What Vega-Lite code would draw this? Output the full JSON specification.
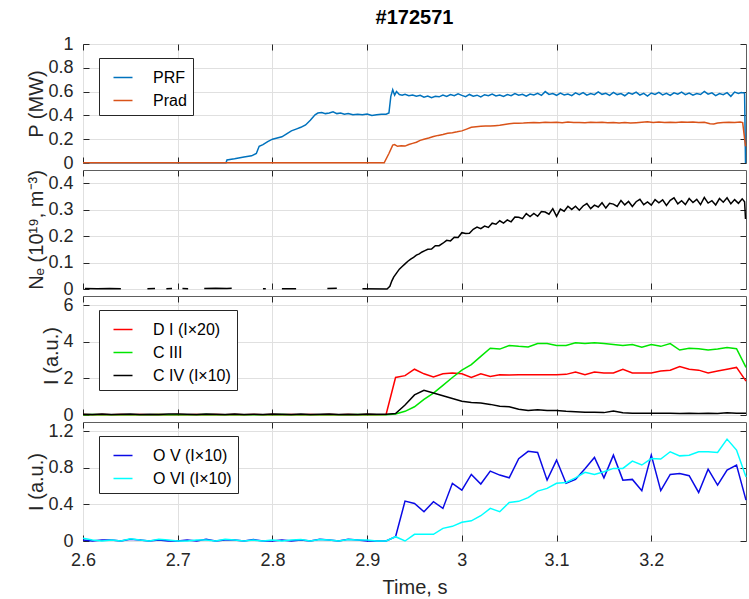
{
  "$schema": "https://vega.github.io/schema/vega-lite/v6.json",
  "padding": {"left": 26, "top": 7, "right": 2, "bottom": 5},
  "title": {"text": "#172571", "fontSize": 20, "fontWeight": "bold", "font": "Liberation Sans", "color": "#000000", "offset": 7, "anchor": "middle", "frame": "group"},
  "spacing": 7,
  "bounds": "flush",
  "config": {
    "font": "Liberation Sans",
    "view": {"stroke": "#5e5e5e", "strokeWidth": 1},
    "axis": {"domain": false, "grid": true, "gridColor": "#e0e0e0", "gridWidth": 1, "tickColor": "#262626", "tickSize": -6, "tickWidth": 1, "labelFont": "Liberation Sans", "labelFontSize": 18, "labelColor": "#262626", "titleFont": "Liberation Sans", "titleFontSize": 20, "titleFontWeight": "normal", "titleColor": "#262626", "labelPadding": 16, "labelFlush": false, "labelOverlap": false},
    "axisY": {"titlePadding": 1},
    "legend": {"orient": "none", "legendX": 16, "legendY": 14, "title": null, "symbolType": "M-0.4,0H1.12", "symbolSize": 625, "symbolStrokeWidth": 1.5, "labelFontSize": 16, "labelFont": "Liberation Sans", "labelColor": "#000000", "padding": 6, "strokeColor": "#262626", "fillColor": "#ffffff", "rowPadding": 1, "labelOffset": 21},
    "line": {"strokeWidth": 1.5, "clip": true}
  },
  "datasets": {
    "p1": [
      {"t":2.6,"v":0.003,"s":"RF"},{"t":2.7,"v":0.002,"s":"RF"},{"t":2.751,"v":0.003,"s":"RF"},{"t":2.752,"v":0.025,"s":"RF"},{"t":2.76,"v":0.035,"s":"RF"},{"t":2.77,"v":0.05,"s":"RF"},{"t":2.778,"v":0.06,"s":"RF"},{"t":2.783,"v":0.08,"s":"RF"},{"t":2.786,"v":0.14,"s":"RF"},{"t":2.79,"v":0.155,"s":"RF"},{"t":2.795,"v":0.18,"s":"RF"},{"t":2.8,"v":0.2,"s":"RF"},{"t":2.805,"v":0.21,"s":"RF"},{"t":2.81,"v":0.22,"s":"RF"},{"t":2.815,"v":0.245,"s":"RF"},{"t":2.82,"v":0.27,"s":"RF"},{"t":2.825,"v":0.285,"s":"RF"},{"t":2.83,"v":0.3,"s":"RF"},{"t":2.835,"v":0.32,"s":"RF"},{"t":2.84,"v":0.36,"s":"RF"},{"t":2.845,"v":0.405,"s":"RF"},{"t":2.848,"v":0.42,"s":"RF"},{"t":2.852,"v":0.425,"s":"RF"},{"t":2.856,"v":0.415,"s":"RF"},{"t":2.86,"v":0.42,"s":"RF"},{"t":2.864,"v":0.43,"s":"RF"},{"t":2.868,"v":0.415,"s":"RF"},{"t":2.872,"v":0.42,"s":"RF"},{"t":2.876,"v":0.41,"s":"RF"},{"t":2.88,"v":0.415,"s":"RF"},{"t":2.885,"v":0.405,"s":"RF"},{"t":2.89,"v":0.41,"s":"RF"},{"t":2.895,"v":0.405,"s":"RF"},{"t":2.9,"v":0.412,"s":"RF"},{"t":2.905,"v":0.4,"s":"RF"},{"t":2.91,"v":0.405,"s":"RF"},{"t":2.915,"v":0.41,"s":"RF"},{"t":2.92,"v":0.41,"s":"RF"},{"t":2.923,"v":0.42,"s":"RF"},{"t":2.925,"v":0.56,"s":"RF"},{"t":2.927,"v":0.615,"s":"RF"},{"t":2.929,"v":0.57,"s":"RF"},{"t":2.931,"v":0.6,"s":"RF"},{"t":2.934,"v":0.575,"s":"RF"},{"t":2.937,"v":0.57,"s":"RF"},
      {"t":2.94,"v":0.578,"s":"RF"},{"t":2.944,"v":0.566,"s":"RF"},{"t":2.948,"v":0.572,"s":"RF"},{"t":2.952,"v":0.561,"s":"RF"},{"t":2.956,"v":0.569,"s":"RF"},{"t":2.96,"v":0.553,"s":"RF"},{"t":2.964,"v":0.562,"s":"RF"},{"t":2.968,"v":0.548,"s":"RF"},{"t":2.972,"v":0.56,"s":"RF"},{"t":2.976,"v":0.556,"s":"RF"},{"t":2.98,"v":0.571,"s":"RF"},{"t":2.984,"v":0.56,"s":"RF"},{"t":2.988,"v":0.575,"s":"RF"},{"t":2.992,"v":0.565,"s":"RF"},{"t":2.996,"v":0.582,"s":"RF"},{"t":3.0,"v":0.568,"s":"RF"},{"t":3.004,"v":0.558,"s":"RF"},{"t":3.008,"v":0.576,"s":"RF"},{"t":3.012,"v":0.562,"s":"RF"},{"t":3.016,"v":0.57,"s":"RF"},{"t":3.02,"v":0.555,"s":"RF"},{"t":3.024,"v":0.574,"s":"RF"},{"t":3.028,"v":0.566,"s":"RF"},{"t":3.032,"v":0.579,"s":"RF"},{"t":3.036,"v":0.563,"s":"RF"},{"t":3.04,"v":0.572,"s":"RF"},{"t":3.044,"v":0.56,"s":"RF"},{"t":3.048,"v":0.575,"s":"RF"},{"t":3.052,"v":0.566,"s":"RF"},{"t":3.056,"v":0.584,"s":"RF"},{"t":3.06,"v":0.57,"s":"RF"},{"t":3.064,"v":0.578,"s":"RF"},{"t":3.068,"v":0.562,"s":"RF"},{"t":3.072,"v":0.58,"s":"RF"},{"t":3.076,"v":0.571,"s":"RF"},{"t":3.08,"v":0.585,"s":"RF"},{"t":3.084,"v":0.568,"s":"RF"},{"t":3.088,"v":0.6,"s":"RF"},{"t":3.092,"v":0.576,"s":"RF"},{"t":3.096,"v":0.583,"s":"RF"},{"t":3.1,"v":0.569,"s":"RF"},{"t":3.104,"v":0.587,"s":"RF"},{"t":3.108,"v":0.572,"s":"RF"},{"t":3.112,"v":0.58,"s":"RF"},{"t":3.116,"v":0.566,"s":"RF"},{"t":3.12,"v":0.589,"s":"RF"},{"t":3.124,"v":0.575,"s":"RF"},{"t":3.128,"v":0.592,"s":"RF"},{"t":3.132,"v":0.57,"s":"RF"},{"t":3.136,"v":0.583,"s":"RF"},{"t":3.14,"v":0.574,"s":"RF"},{"t":3.144,"v":0.598,"s":"RF"},{"t":3.148,"v":0.577,"s":"RF"},{"t":3.152,"v":0.586,"s":"RF"},{"t":3.156,"v":0.569,"s":"RF"},{"t":3.16,"v":0.594,"s":"RF"},{"t":3.164,"v":0.575,"s":"RF"},{"t":3.168,"v":0.584,"s":"RF"},{"t":3.172,"v":0.565,"s":"RF"},{"t":3.176,"v":0.59,"s":"RF"},{"t":3.18,"v":0.578,"s":"RF"},{"t":3.184,"v":0.596,"s":"RF"},{"t":3.188,"v":0.571,"s":"RF"},{"t":3.192,"v":0.585,"s":"RF"},{"t":3.196,"v":0.563,"s":"RF"},{"t":3.2,"v":0.588,"s":"RF"},{"t":3.204,"v":0.576,"s":"RF"},{"t":3.208,"v":0.593,"s":"RF"},{"t":3.212,"v":0.572,"s":"RF"},{"t":3.216,"v":0.585,"s":"RF"},{"t":3.22,"v":0.568,"s":"RF"},{"t":3.224,"v":0.59,"s":"RF"},{"t":3.228,"v":0.579,"s":"RF"},{"t":3.232,"v":0.595,"s":"RF"},{"t":3.236,"v":0.574,"s":"RF"},{"t":3.24,"v":0.588,"s":"RF"},{"t":3.244,"v":0.57,"s":"RF"},{"t":3.248,"v":0.583,"s":"RF"},{"t":3.252,"v":0.576,"s":"RF"},{"t":3.256,"v":0.602,"s":"RF"},{"t":3.26,"v":0.578,"s":"RF"},{"t":3.264,"v":0.589,"s":"RF"},{"t":3.268,"v":0.566,"s":"RF"},{"t":3.272,"v":0.584,"s":"RF"},{"t":3.276,"v":0.574,"s":"RF"},{"t":3.28,"v":0.591,"s":"RF"},{"t":3.284,"v":0.56,"s":"RF"},{"t":3.288,"v":0.596,"s":"RF"},{"t":3.292,"v":0.585,"s":"RF"},{"t":3.295,"v":0.592,"s":"RF"},{"t":3.2985,"v":0.588,"s":"RF"},{"t":3.2995,"v":0.0,"s":"RF"},
      {"t":2.6,"v":0.002,"s":"rad"},{"t":2.918,"v":0.002,"s":"rad"},{"t":2.923,"v":0.08,"s":"rad"},{"t":2.927,"v":0.15,"s":"rad"},{"t":2.929,"v":0.155,"s":"rad"},{"t":2.932,"v":0.14,"s":"rad"},{"t":2.936,"v":0.145,"s":"rad"},{"t":2.94,"v":0.142,"s":"rad"},{"t":2.944,"v":0.155,"s":"rad"},{"t":2.948,"v":0.165,"s":"rad"},{"t":2.952,"v":0.175,"s":"rad"},{"t":2.956,"v":0.19,"s":"rad"},{"t":2.96,"v":0.2,"s":"rad"},{"t":2.965,"v":0.21,"s":"rad"},{"t":2.97,"v":0.222,"s":"rad"},{"t":2.975,"v":0.232,"s":"rad"},{"t":2.98,"v":0.24,"s":"rad"},{"t":2.985,"v":0.25,"s":"rad"},{"t":2.99,"v":0.255,"s":"rad"},{"t":2.995,"v":0.262,"s":"rad"},{"t":3.0,"v":0.27,"s":"rad"},{"t":3.005,"v":0.285,"s":"rad"},{"t":3.01,"v":0.3,"s":"rad"},{"t":3.015,"v":0.305,"s":"rad"},{"t":3.02,"v":0.308,"s":"rad"},{"t":3.025,"v":0.31,"s":"rad"},{"t":3.03,"v":0.31,"s":"rad"},{"t":3.035,"v":0.314,"s":"rad"},{"t":3.04,"v":0.318,"s":"rad"},{"t":3.045,"v":0.324,"s":"rad"},{"t":3.05,"v":0.33,"s":"rad"},{"t":3.055,"v":0.333,"s":"rad"},{"t":3.06,"v":0.335,"s":"rad"},{"t":3.065,"v":0.336,"s":"rad"},{"t":3.07,"v":0.338,"s":"rad"},{"t":3.076,"v":0.341,"s":"rad"},{"t":3.082,"v":0.338,"s":"rad"},{"t":3.088,"v":0.343,"s":"rad"},{"t":3.094,"v":0.34,"s":"rad"},{"t":3.1,"v":0.342,"s":"rad"},{"t":3.106,"v":0.339,"s":"rad"},{"t":3.112,"v":0.344,"s":"rad"},{"t":3.118,"v":0.34,"s":"rad"},{"t":3.124,"v":0.341,"s":"rad"},{"t":3.13,"v":0.338,"s":"rad"},{"t":3.136,"v":0.342,"s":"rad"},{"t":3.142,"v":0.34,"s":"rad"},{"t":3.148,"v":0.343,"s":"rad"},{"t":3.154,"v":0.339,"s":"rad"},{"t":3.16,"v":0.341,"s":"rad"},{"t":3.166,"v":0.337,"s":"rad"},{"t":3.172,"v":0.34,"s":"rad"},{"t":3.178,"v":0.336,"s":"rad"},{"t":3.184,"v":0.339,"s":"rad"},{"t":3.19,"v":0.342,"s":"rad"},{"t":3.196,"v":0.346,"s":"rad"},{"t":3.202,"v":0.341,"s":"rad"},{"t":3.208,"v":0.344,"s":"rad"},{"t":3.214,"v":0.34,"s":"rad"},{"t":3.22,"v":0.343,"s":"rad"},{"t":3.226,"v":0.341,"s":"rad"},{"t":3.232,"v":0.345,"s":"rad"},{"t":3.238,"v":0.342,"s":"rad"},{"t":3.244,"v":0.344,"s":"rad"},{"t":3.25,"v":0.34,"s":"rad"},{"t":3.256,"v":0.342,"s":"rad"},{"t":3.262,"v":0.33,"s":"rad"},{"t":3.266,"v":0.328,"s":"rad"},{"t":3.27,"v":0.336,"s":"rad"},{"t":3.276,"v":0.34,"s":"rad"},{"t":3.282,"v":0.343,"s":"rad"},{"t":3.288,"v":0.341,"s":"rad"},{"t":3.294,"v":0.344,"s":"rad"},{"t":3.2965,"v":0.34,"s":"rad"},{"t":3.2995,"v":0.14,"s":"rad"}
    ],
    "p2": [
      {"t":2.602,"v":0.002},{"t":2.615,"v":0.001},{"t":2.628,"v":0.002},{"t":2.64,"v":0.001},{"t":2.641,"v":null},
      {"t":2.668,"v":0.001},{"t":2.676,"v":0.002},{"t":2.677,"v":null},
      {"t":2.688,"v":0.001},{"t":2.694,"v":0.002},{"t":2.695,"v":null},
      {"t":2.705,"v":0.002},{"t":2.711,"v":0.001},{"t":2.712,"v":null},
      {"t":2.728,"v":0.002},{"t":2.74,"v":0.003},{"t":2.752,"v":0.002},{"t":2.757,"v":0.003},{"t":2.758,"v":null},
      {"t":2.79,"v":0.001},{"t":2.793,"v":0.001},{"t":2.794,"v":null},
      {"t":2.81,"v":0.001},{"t":2.825,"v":0.001},{"t":2.826,"v":null},
      {"t":2.858,"v":0.002},{"t":2.868,"v":0.003},{"t":2.869,"v":null},
      {"t":2.895,"v":0.001},{"t":2.921,"v":0.0},{"t":2.924,"v":0.01},{"t":2.926,"v":0.03},{"t":2.928,"v":0.045},{"t":2.931,"v":0.06},{"t":2.934,"v":0.075},{"t":2.937,"v":0.085},{"t":2.94,"v":0.095},{"t":2.943,"v":0.105},{"t":2.946,"v":0.113},{"t":2.949,"v":0.12},{"t":2.952,"v":0.128},{"t":2.955,"v":0.133},{"t":2.958,"v":0.14},{"t":2.961,"v":0.145},
      {"t":2.964,"v":0.15},{"t":2.968,"v":0.151},{"t":2.972,"v":0.164},{"t":2.976,"v":0.164},{"t":2.98,"v":0.173},{"t":2.984,"v":0.184},{"t":2.988,"v":0.182},{"t":2.992,"v":0.196},{"t":2.996,"v":0.195},{"t":3.0,"v":0.213},{"t":3.004,"v":0.21},{"t":3.008,"v":0.211},{"t":3.012,"v":0.226},{"t":3.016,"v":0.234},{"t":3.02,"v":0.228},{"t":3.024,"v":0.238},{"t":3.028,"v":0.233},{"t":3.032,"v":0.249},{"t":3.036,"v":0.245},{"t":3.04,"v":0.258},{"t":3.044,"v":0.249},{"t":3.048,"v":0.261},{"t":3.052,"v":0.254},{"t":3.056,"v":0.272},{"t":3.06,"v":0.271},{"t":3.064,"v":0.266},{"t":3.068,"v":0.285},{"t":3.072,"v":0.274},{"t":3.076,"v":0.286},{"t":3.08,"v":0.275},{"t":3.084,"v":0.293},{"t":3.088,"v":0.291},{"t":3.092,"v":0.283},{"t":3.096,"v":0.304},{"t":3.1,"v":0.275},{"t":3.104,"v":0.302},{"t":3.108,"v":0.294},{"t":3.112,"v":0.313},{"t":3.116,"v":0.301},{"t":3.12,"v":0.313},{"t":3.124,"v":0.298},{"t":3.128,"v":0.314},{"t":3.132,"v":0.323},{"t":3.136,"v":0.304},{"t":3.14,"v":0.317},{"t":3.144,"v":0.31},{"t":3.148,"v":0.326},{"t":3.152,"v":0.306},{"t":3.156,"v":0.324},{"t":3.16,"v":0.321},{"t":3.164,"v":0.312},{"t":3.168,"v":0.335},{"t":3.172,"v":0.318},{"t":3.176,"v":0.331},{"t":3.18,"v":0.312},{"t":3.184,"v":0.33},{"t":3.188,"v":0.339},{"t":3.192,"v":0.319},{"t":3.196,"v":0.329},{"t":3.2,"v":0.317},{"t":3.204,"v":0.338},{"t":3.208,"v":0.326},{"t":3.212,"v":0.337},{"t":3.216,"v":0.316},{"t":3.22,"v":0.335},{"t":3.224,"v":0.345},{"t":3.228,"v":0.322},{"t":3.232,"v":0.334},{"t":3.236,"v":0.319},{"t":3.24,"v":0.342},{"t":3.244,"v":0.327},{"t":3.248,"v":0.339},{"t":3.252,"v":0.319},{"t":3.256,"v":0.346},{"t":3.26,"v":0.325},{"t":3.264,"v":0.334},{"t":3.268,"v":0.318},{"t":3.272,"v":0.342},{"t":3.276,"v":0.328},{"t":3.28,"v":0.345},{"t":3.284,"v":0.322},{"t":3.288,"v":0.338},{"t":3.292,"v":0.324},{"t":3.296,"v":0.341},{"t":3.2985,"v":0.33},{"t":3.2995,"v":0.265}
    ],
    "p3": [
      {"t":2.6,"DI":0.03,"CIII":0.02,"CIV":0.04},{"t":2.61,"DI":0.02,"CIII":0.03,"CIV":0.03},{"t":2.62,"DI":0.03,"CIII":0.02,"CIV":0.05},{"t":2.63,"DI":0.02,"CIII":0.01,"CIV":0.03},{"t":2.64,"DI":0.03,"CIII":0.02,"CIV":0.04},{"t":2.65,"DI":0.02,"CIII":0.02,"CIV":0.06},{"t":2.66,"DI":0.03,"CIII":0.01,"CIV":0.03},{"t":2.67,"DI":0.02,"CIII":0.02,"CIV":0.04},{"t":2.68,"DI":0.03,"CIII":0.03,"CIV":0.03},{"t":2.69,"DI":0.02,"CIII":0.02,"CIV":0.05},{"t":2.7,"DI":0.03,"CIII":0.01,"CIV":0.06},{"t":2.71,"DI":0.02,"CIII":0.02,"CIV":0.04},{"t":2.72,"DI":0.03,"CIII":0.02,"CIV":0.03},{"t":2.73,"DI":0.02,"CIII":0.03,"CIV":0.05},{"t":2.74,"DI":0.03,"CIII":0.02,"CIV":0.04},{"t":2.75,"DI":0.02,"CIII":0.01,"CIV":0.03},{"t":2.76,"DI":0.03,"CIII":0.02,"CIV":0.05},{"t":2.77,"DI":0.02,"CIII":0.02,"CIV":0.03},{"t":2.78,"DI":0.03,"CIII":0.01,"CIV":0.04},{"t":2.79,"DI":0.02,"CIII":0.02,"CIV":0.03},{"t":2.8,"DI":0.03,"CIII":0.02,"CIV":0.05},{"t":2.81,"DI":0.02,"CIII":0.03,"CIV":0.04},{"t":2.82,"DI":0.03,"CIII":0.02,"CIV":0.03},{"t":2.83,"DI":0.02,"CIII":0.02,"CIV":0.06},{"t":2.84,"DI":0.03,"CIII":0.01,"CIV":0.03},{"t":2.85,"DI":0.02,"CIII":0.02,"CIV":0.04},{"t":2.86,"DI":0.03,"CIII":0.02,"CIV":0.05},{"t":2.87,"DI":0.02,"CIII":0.01,"CIV":0.03},{"t":2.88,"DI":0.03,"CIII":0.02,"CIV":0.04},{"t":2.89,"DI":0.02,"CIII":0.03,"CIV":0.03},{"t":2.9,"DI":0.03,"CIII":0.02,"CIV":0.05},{"t":2.91,"DI":0.02,"CIII":0.02,"CIV":0.04},{"t":2.92,"DI":0.03,"CIII":0.02,"CIV":0.04},
      {"t":2.93,"DI":2.05,"CIII":0.05,"CIV":0.08},{"t":2.94,"DI":2.15,"CIII":0.2,"CIV":0.55},{"t":2.95,"DI":2.5,"CIII":0.45,"CIV":1.1},{"t":2.96,"DI":2.25,"CIII":0.85,"CIV":1.35},{"t":2.97,"DI":2.08,"CIII":1.2,"CIV":1.2},{"t":2.98,"DI":2.25,"CIII":1.62,"CIV":1.05},{"t":2.99,"DI":2.3,"CIII":2.05,"CIV":0.9},{"t":3.0,"DI":2.25,"CIII":2.45,"CIV":0.75},{"t":3.01,"DI":2.05,"CIII":2.75,"CIV":0.68},{"t":3.02,"DI":2.25,"CIII":3.2,"CIV":0.65},{"t":3.03,"DI":2.1,"CIII":3.65,"CIV":0.58},{"t":3.04,"DI":2.2,"CIII":3.6,"CIV":0.48},{"t":3.05,"DI":2.18,"CIII":3.8,"CIV":0.45},{"t":3.06,"DI":2.2,"CIII":3.75,"CIV":0.32},{"t":3.07,"DI":2.2,"CIII":3.72,"CIV":0.25},{"t":3.08,"DI":2.2,"CIII":3.9,"CIV":0.28},{"t":3.09,"DI":2.2,"CIII":3.9,"CIV":0.25},{"t":3.1,"DI":2.2,"CIII":3.8,"CIV":0.25},{"t":3.11,"DI":2.22,"CIII":3.8,"CIV":0.2},{"t":3.12,"DI":2.35,"CIII":3.95,"CIV":0.18},{"t":3.13,"DI":2.2,"CIII":3.9,"CIV":0.15},{"t":3.14,"DI":2.35,"CIII":3.95,"CIV":0.15},{"t":3.15,"DI":2.3,"CIII":3.9,"CIV":0.13},{"t":3.16,"DI":2.3,"CIII":3.85,"CIV":0.22},{"t":3.17,"DI":2.5,"CIII":3.8,"CIV":0.12},{"t":3.18,"DI":2.3,"CIII":3.85,"CIV":0.1},{"t":3.19,"DI":2.3,"CIII":3.7,"CIV":0.1},{"t":3.2,"DI":2.3,"CIII":3.85,"CIV":0.1},{"t":3.21,"DI":2.4,"CIII":3.75,"CIV":0.1},{"t":3.22,"DI":2.45,"CIII":3.9,"CIV":0.1},{"t":3.23,"DI":2.65,"CIII":3.55,"CIV":0.08},{"t":3.24,"DI":2.5,"CIII":3.65,"CIV":0.1},{"t":3.25,"DI":2.45,"CIII":3.62,"CIV":0.08},{"t":3.26,"DI":2.3,"CIII":3.55,"CIV":0.1},{"t":3.27,"DI":2.4,"CIII":3.6,"CIV":0.08},{"t":3.28,"DI":2.5,"CIII":3.68,"CIV":0.12},{"t":3.29,"DI":2.6,"CIII":3.62,"CIV":0.1},{"t":3.3,"DI":1.85,"CIII":2.6,"CIV":0.1}
    ],
    "p4": [
      {"t":2.6,"OV":0.01,"OVI":0.03},{"t":2.61,"OV":0.0,"OVI":0.01},{"t":2.62,"OV":0.01,"OVI":0.0},{"t":2.63,"OV":0.01,"OVI":0.01},{"t":2.64,"OV":0.0,"OVI":0.0},{"t":2.65,"OV":0.02,"OVI":0.025},{"t":2.66,"OV":0.01,"OVI":0.01},{"t":2.67,"OV":0.0,"OVI":0.0},{"t":2.68,"OV":0.01,"OVI":0.02},{"t":2.69,"OV":0.0,"OVI":0.01},{"t":2.7,"OV":0.0,"OVI":0.0},{"t":2.71,"OV":0.01,"OVI":0.0},{"t":2.72,"OV":0.0,"OVI":0.01},{"t":2.73,"OV":0.02,"OVI":0.01},{"t":2.74,"OV":0.0,"OVI":0.0},{"t":2.75,"OV":0.01,"OVI":0.02},{"t":2.76,"OV":0.01,"OVI":0.01},{"t":2.77,"OV":0.0,"OVI":0.0},{"t":2.78,"OV":0.015,"OVI":0.01},{"t":2.79,"OV":0.0,"OVI":0.0},{"t":2.8,"OV":0.0,"OVI":0.01},{"t":2.81,"OV":0.01,"OVI":0.0},{"t":2.82,"OV":0.0,"OVI":0.01},{"t":2.83,"OV":0.01,"OVI":0.015},{"t":2.84,"OV":0.0,"OVI":0.0},{"t":2.85,"OV":0.02,"OVI":0.015},{"t":2.86,"OV":0.01,"OVI":0.01},{"t":2.87,"OV":0.0,"OVI":0.0},{"t":2.88,"OV":0.02,"OVI":0.015},{"t":2.89,"OV":0.01,"OVI":0.01},{"t":2.9,"OV":0.0,"OVI":0.01},{"t":2.91,"OV":0.0,"OVI":0.0},{"t":2.92,"OV":0.0,"OVI":0.0},
      {"t":2.93,"OV":0.047,"OVI":0.047},{"t":2.94,"OV":0.436,"OVI":0.0},{"t":2.95,"OV":0.41,"OVI":0.073},{"t":2.96,"OV":0.32,"OVI":0.073},{"t":2.97,"OV":0.43,"OVI":0.073},{"t":2.98,"OV":0.356,"OVI":0.138},{"t":2.99,"OV":0.63,"OVI":0.16},{"t":3.0,"OV":0.556,"OVI":0.204},{"t":3.01,"OV":0.727,"OVI":0.22},{"t":3.02,"OV":0.622,"OVI":0.276},{"t":3.03,"OV":0.764,"OVI":0.356},{"t":3.04,"OV":0.72,"OVI":0.32},{"t":3.05,"OV":0.69,"OVI":0.42},{"t":3.06,"OV":0.9,"OVI":0.433},{"t":3.07,"OV":0.98,"OVI":0.473},{"t":3.08,"OV":0.967,"OVI":0.545},{"t":3.09,"OV":0.665,"OVI":0.575},{"t":3.1,"OV":0.884,"OVI":0.63},{"t":3.11,"OV":0.63,"OVI":0.64},{"t":3.12,"OV":0.673,"OVI":0.69},{"t":3.13,"OV":0.79,"OVI":0.75},{"t":3.14,"OV":0.913,"OVI":0.727},{"t":3.15,"OV":0.69,"OVI":0.756},{"t":3.16,"OV":0.938,"OVI":0.793},{"t":3.17,"OV":0.665,"OVI":0.793},{"t":3.18,"OV":0.673,"OVI":0.873},{"t":3.19,"OV":0.55,"OVI":0.83},{"t":3.2,"OV":0.938,"OVI":0.9},{"t":3.21,"OV":0.55,"OVI":0.895},{"t":3.22,"OV":0.727,"OVI":0.975},{"t":3.23,"OV":0.738,"OVI":0.93},{"t":3.24,"OV":0.713,"OVI":0.938},{"t":3.25,"OV":0.53,"OVI":0.975},{"t":3.26,"OV":0.785,"OVI":0.975},{"t":3.27,"OV":0.61,"OVI":0.967},{"t":3.28,"OV":0.775,"OVI":1.113},{"t":3.29,"OV":0.83,"OVI":0.993},{"t":3.3,"OV":0.447,"OVI":0.7}
    ]
  },
  "vconcat": [
    {
      "width": 663, "height": 119,
      "data": {"name": "p1"},
      "layer": [
        {
          "mark": {"type": "line"},
          "encoding": {
            "x": {"field": "t", "type": "quantitative", "scale": {"domain": [2.6, 3.3], "nice": false, "zero": false}, "axis": {"values": [2.6, 2.7, 2.8, 2.9, 3, 3.1, 3.2], "labels": false, "title": null}},
            "y": {"field": "v", "type": "quantitative", "scale": {"domain": [0, 1], "nice": false}, "axis": {"values": [0, 0.2, 0.4, 0.6, 0.8, 1], "format": "~g", "title": "P (MW)"}},
            "color": {"field": "s", "type": "nominal", "scale": {"domain": ["RF", "rad"], "range": ["#0072BD", "#D95319"]}, "legend": {"labelExpr": "datum.label == 'RF' ? 'PRF' : 'Prad'"}}
          }
        },
        {
          "mark": {"type": "line", "opacity": 0},
          "encoding": {
            "x": {"field": "t", "type": "quantitative", "axis": {"orient": "top", "values": [2.6, 2.7, 2.8, 2.9, 3, 3.1, 3.2], "labels": false, "grid": false, "title": null}},
            "y": {"field": "v", "type": "quantitative", "axis": {"orient": "right", "values": [0, 0.2, 0.4, 0.6, 0.8, 1], "labels": false, "grid": false, "title": null}}
          }
        }
      ],
      "resolve": {"axis": {"x": "independent", "y": "independent"}}
    },
    {
      "width": 663, "height": 119,
      "data": {"name": "p2"},
      "layer": [
        {
          "mark": {"type": "line", "color": "#000000"},
          "encoding": {
            "x": {"field": "t", "type": "quantitative", "scale": {"domain": [2.6, 3.3], "nice": false, "zero": false}, "axis": {"values": [2.6, 2.7, 2.8, 2.9, 3, 3.1, 3.2], "labels": false, "title": null}},
            "y": {"field": "v", "type": "quantitative", "scale": {"domain": [0, 0.45], "nice": false}, "axis": {"values": [0, 0.1, 0.2, 0.3, 0.4], "format": "~g", "title": "Nₑ (10¹⁹, m⁻³)"}}
          }
        },
        {
          "mark": {"type": "line", "opacity": 0},
          "encoding": {
            "x": {"field": "t", "type": "quantitative", "axis": {"orient": "top", "values": [2.6, 2.7, 2.8, 2.9, 3, 3.1, 3.2], "labels": false, "grid": false, "title": null}},
            "y": {"field": "v", "type": "quantitative", "axis": {"orient": "right", "values": [0, 0.1, 0.2, 0.3, 0.4], "labels": false, "grid": false, "title": null}}
          }
        }
      ],
      "resolve": {"axis": {"x": "independent", "y": "independent"}}
    },
    {
      "width": 663, "height": 119,
      "data": {"name": "p3"},
      "transform": [{"fold": ["DI", "CIII", "CIV"], "as": ["s", "v"]}],
      "layer": [
        {
          "mark": {"type": "line"},
          "encoding": {
            "x": {"field": "t", "type": "quantitative", "scale": {"domain": [2.6, 3.3], "nice": false, "zero": false}, "axis": {"values": [2.6, 2.7, 2.8, 2.9, 3, 3.1, 3.2], "labels": false, "title": null}},
            "y": {"field": "v", "type": "quantitative", "scale": {"domain": [0, 6.5], "nice": false}, "axis": {"values": [0, 2, 4, 6], "format": "~g", "title": "I (a.u.)"}},
            "color": {"field": "s", "type": "nominal", "scale": {"domain": ["DI", "CIII", "CIV"], "range": ["#FF0000", "#00E600", "#000000"]}, "legend": {"labelExpr": "datum.label == 'DI' ? 'D I (I×20)' : datum.label == 'CIII' ? 'C III' : 'C IV (I×10)'"}}
          }
        },
        {
          "mark": {"type": "line", "opacity": 0},
          "encoding": {
            "x": {"field": "t", "type": "quantitative", "axis": {"orient": "top", "values": [2.6, 2.7, 2.8, 2.9, 3, 3.1, 3.2], "labels": false, "grid": false, "title": null}},
            "y": {"field": "v", "type": "quantitative", "axis": {"orient": "right", "values": [0, 2, 4, 6], "labels": false, "grid": false, "title": null}},
            "detail": {"field": "s"}
          }
        }
      ],
      "resolve": {"axis": {"x": "independent", "y": "independent"}}
    },
    {
      "width": 663, "height": 119,
      "data": {"name": "p4"},
      "transform": [{"fold": ["OV", "OVI"], "as": ["s", "v"]}],
      "layer": [
        {
          "mark": {"type": "line"},
          "encoding": {
            "x": {"field": "t", "type": "quantitative", "scale": {"domain": [2.6, 3.3], "nice": false, "zero": false}, "axis": {"values": [2.6, 2.7, 2.8, 2.9, 3, 3.1, 3.2], "format": "~g", "title": "Time, s", "titlePadding": 8}},
            "y": {"field": "v", "type": "quantitative", "scale": {"domain": [0, 1.3], "nice": false}, "axis": {"values": [0, 0.4, 0.8, 1.2], "labelExpr": "datum.value == 0 ? '0' : format(datum.value, '.1f')", "title": "I (a.u.)"}},
            "color": {"field": "s", "type": "nominal", "scale": {"domain": ["OV", "OVI"], "range": ["#0A0AE6", "#00FFFF"]}, "legend": {"labelExpr": "datum.label == 'OV' ? 'O V (I×10)' : 'O VI (I×10)'"}}
          }
        },
        {
          "mark": {"type": "line", "opacity": 0},
          "encoding": {
            "x": {"field": "t", "type": "quantitative", "axis": {"orient": "top", "values": [2.6, 2.7, 2.8, 2.9, 3, 3.1, 3.2], "labels": false, "grid": false, "title": null}},
            "y": {"field": "v", "type": "quantitative", "axis": {"orient": "right", "values": [0, 0.4, 0.8, 1.2], "labels": false, "grid": false, "title": null}},
            "detail": {"field": "s"}
          }
        }
      ],
      "resolve": {"axis": {"x": "independent", "y": "independent"}}
    }
  ],
  "resolve": {"scale": {"color": "independent"}, "legend": {"color": "independent"}}
}
